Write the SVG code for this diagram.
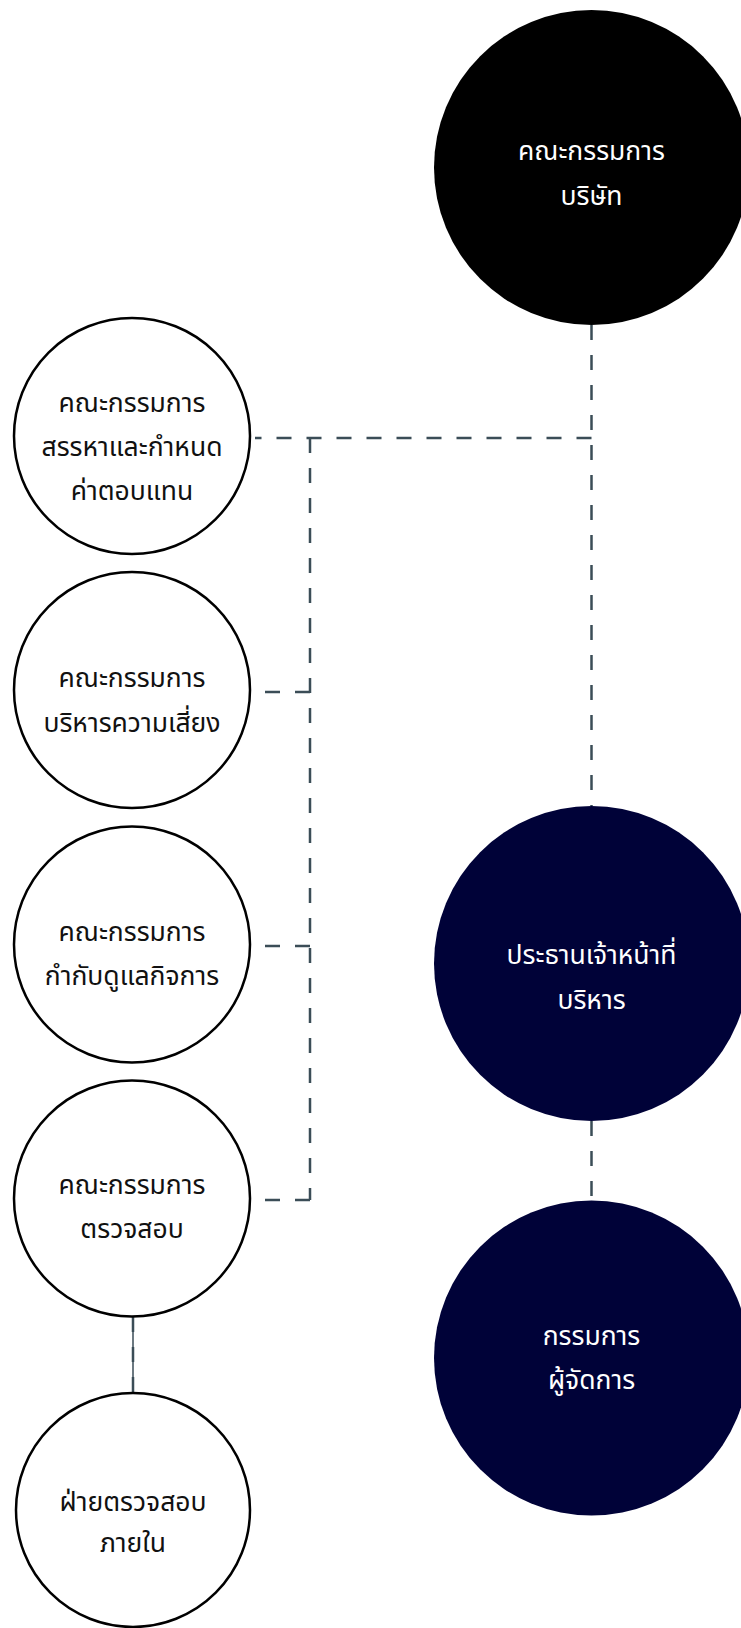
<svg xmlns="http://www.w3.org/2000/svg" width="741" height="1628" viewBox="0 0 741 1628">
  <style>
    .node-dark { fill: #000000; }
    .node-navy { fill: #000238; }
    .node-light { fill: #ffffff; stroke: #000000; stroke-width: 2.5; }
    .lbl { font-family: "Noto Sans Thai", "Noto Sans", "DejaVu Sans", sans-serif; font-size: 26.5px; text-anchor: middle; }
    .lbl-w { fill: #ffffff; }
    .lbl-k { fill: #111111; }
    .link { fill: none; stroke: #3b4d57; stroke-width: 2.5; stroke-dasharray: 15 15; }
    .link-solid { fill: none; stroke: #3b4d57; stroke-width: 1.5; }
  </style>
  <rect width="741" height="1628" fill="#ffffff"/>

  <!-- connectors -->
  <g id="connectors">
    <path class="link" d="M591.5 325 V806"/>
    <path class="link" d="M591.5 438 H255"/>
    <path class="link" d="M310 438 V1200"/>
    <path class="link" d="M310 692 H262"/>
    <path class="link" d="M310 946 H262"/>
    <path class="link" d="M310 1200 H258"/>
    <path class="link" d="M591.5 1121 V1201"/>
    <path class="link-solid" d="M133 1317 V1392"/>
    <path class="link" d="M133 1317 V1392" stroke-dasharray="20 4"/>
  </g>

  <g id="board">
    <circle class="node-dark" cx="591.5" cy="167.5" r="157.5"/>
    <text class="lbl lbl-w" x="591.5" y="160">คณะกรรมการ</text>
    <text class="lbl lbl-w" x="591.5" y="205">บริษัท</text>
  </g>

  <g id="nomination">
    <circle class="node-light" cx="132" cy="436" r="118"/>
    <text class="lbl lbl-k" x="132" y="412">คณะกรรมการ</text>
    <text class="lbl lbl-k" x="132" y="456">สรรหาและกำหนด</text>
    <text class="lbl lbl-k" x="132" y="500">ค่าตอบแทน</text>
  </g>

  <g id="risk">
    <circle class="node-light" cx="132" cy="690" r="118"/>
    <text class="lbl lbl-k" x="132" y="687">คณะกรรมการ</text>
    <text class="lbl lbl-k" x="132" y="732">บริหารความเสี่ยง</text>
  </g>

  <g id="governance">
    <circle class="node-light" cx="132" cy="944.5" r="118"/>
    <text class="lbl lbl-k" x="132" y="941">คณะกรรมการ</text>
    <text class="lbl lbl-k" x="132" y="985">กำกับดูแลกิจการ</text>
  </g>

  <g id="audit">
    <circle class="node-light" cx="132" cy="1198.5" r="118"/>
    <text class="lbl lbl-k" x="132" y="1194">คณะกรรมการ</text>
    <text class="lbl lbl-k" x="132" y="1238">ตรวจสอบ</text>
  </g>

  <g id="internal-audit">
    <circle class="node-light" cx="133" cy="1510" r="117"/>
    <text class="lbl lbl-k" x="133" y="1511">ฝ่ายตรวจสอบ</text>
    <text class="lbl lbl-k" x="133" y="1552">ภายใน</text>
  </g>

  <g id="ceo">
    <circle class="node-navy" cx="591.5" cy="963.5" r="157.5"/>
    <text class="lbl lbl-w" x="591.5" y="964">ประธานเจ้าหน้าที่</text>
    <text class="lbl lbl-w" x="591.5" y="1009">บริหาร</text>
  </g>

  <g id="md">
    <circle class="node-navy" cx="591.5" cy="1358" r="157.5"/>
    <text class="lbl lbl-w" x="591.5" y="1345">กรรมการ</text>
    <text class="lbl lbl-w" x="591.5" y="1389">ผู้จัดการ</text>
  </g>
</svg>
